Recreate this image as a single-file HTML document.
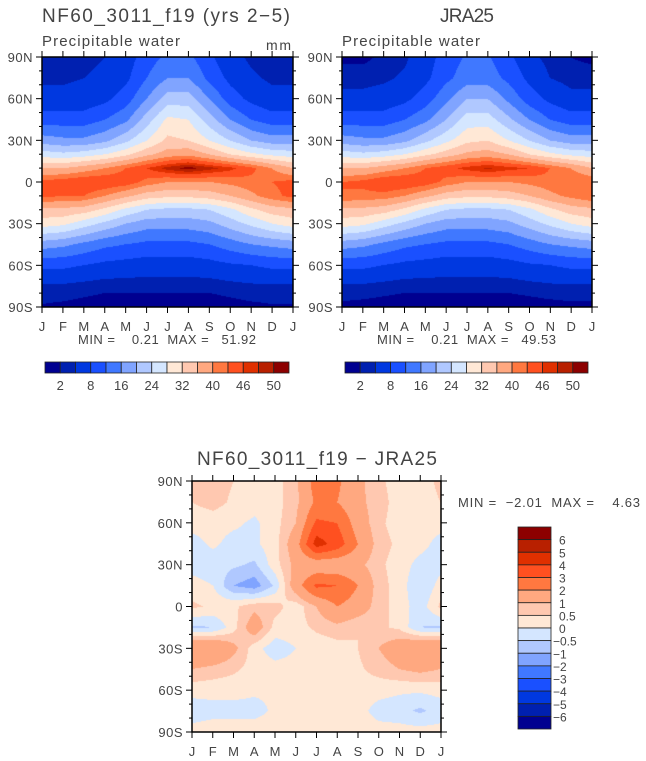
<!DOCTYPE html>
<html><head><meta charset="utf-8">
<style>
body{margin:0;background:#fff;width:646px;height:761px;position:relative;overflow:hidden;font-family:"Liberation Sans",sans-serif;color:#444}
canvas{position:absolute}
svg{position:absolute;left:0;top:0}
text{font-family:"Liberation Sans",sans-serif;fill:#444}
</style></head>
<body>
<canvas id="c1" width="251" height="250" style="left:42px;top:57px"></canvas>
<canvas id="c2" width="250" height="250" style="left:342px;top:57px"></canvas>
<canvas id="c3" width="249" height="251" style="left:192px;top:481px"></canvas>
<svg id="ov" width="646" height="761"></svg>
<script>
const months=["J","F","M","A","M","J","J","A","S","O","N","D","J"];
const latLabels=["90N","60N","30N","0","30S","60S","90S"];
const pwLats=[90,75,60,45,30,20,10,0,-10,-20,-30,-45,-60,-75,-90];
const diffLats=[90,75,60,45,30,15,0,-15,-30,-45,-60,-75,-90];
// rows follow pwLats ; cols: Jan..Jan
const modelPW=[
[3,3,3,4,6,10,13,13,9,5,3.5,3,3],
[3.5,3.5,4,5,7,12,16,16,11,7,4.5,3.5,3.5],
[5,5,5.5,7,10,16,22,22,16,10,7,5,5],
[10,10,10,12,15,22,29,28,22,16,12,10,10],
[18,17,17,19,23,28,33,32,28,24,20,18,18],
[26,25,26,28,31,35,38,39,36,32,29,27,26],
[36,36,38,40,43,46,49,51,49,47,44,40,36],
[44,45,46,46,45,42,40,40,40,41,42,43,44],
[44,43,43,40,37,34,33,33,34,36,39,42,44],
[35,35,34,31,27,24,23,23,24,27,31,34,35],
[30,29,26,23,20,18,18,18,19,22,25,28,30],
[18,17,15,13,12,11,11,11,12,14,16,17,18],
[9,9,8,7,6.5,6,6,6,6.5,7.5,8,9,9],
[3.5,3.5,3,2.5,2.5,2.5,2.5,2.5,2.5,3,3.5,3.5,3.5],
[1.8,1.5,1.2,1,1,1,1,1,1,1.2,1.5,1.8,1.8]];
const jraPW=[
[1.5,1.5,2.5,3.5,6,10,12.5,12.5,9,5,3,2,1.5],
[3,3,3.5,4.5,7,11,14,14,11,7,4,3,3],
[5,5,5.5,7,10,15,20,20,15,10,7,5,5],
[10,10,10,12,15,20,26,26,21,16,12,10,10],
[18,17,17,19,23,27,31,32,28,24,20,18,18],
[26,25,26,28,31,34,37,38,36,32,29,27,26],
[36,36,38,40,43,45,47,48.5,47,46,43,40,36],
[43,44,46,46,45,42,40,40,40,41,42,43,43],
[43,42,42,40,37,34,33,33,34,36,39,41,43],
[35,35,34,31,27,24,23,23,24,27,31,34,35],
[30,29,26,23,20,18,18,18,19,22,25,28,30],
[18,17,15,13,12,11,11,11,12,14,16,17,18],
[9,9,8,7,6.5,6,6,6,6.5,7.5,8,9,9],
[3.5,3.5,3,2.5,2.5,2.5,2.5,2.5,2.5,3,3.5,3.5,3.5],
[1.5,1.2,1,1,1,1,1,1,1,1,1.2,1.5,1.5]];
// rows follow diffLats
const diffPW=[
[0.6,0.7,0.5,0.3,0.3,0.8,2.5,2.2,1.2,0.6,0.3,0.3,0.6],
[0.5,0.7,0.4,0.2,0.3,0.8,2.2,2,1.2,0.7,0.3,0.3,0.5],
[0.2,0.2,0.1,-0.1,0.3,1,3.2,3,1.5,0.6,0.3,0.2,0.2],
[-0.2,0.1,-0.2,-0.1,0.3,1.5,4.5,3.6,2,0.7,0.4,0.2,-0.2],
[-0.2,-0.3,-0.4,-0.6,0.3,1.2,1.2,1.2,1.2,0.6,0.3,-0.2,-0.2],
[0.2,0,-1,-1.3,-0.4,1.5,3.2,3,2,0.7,0.3,-0.5,0.2],
[0.6,0.4,0.4,0.8,0.7,0.2,1,2,1.5,0.7,0.3,-0.3,0.6],
[-0.6,-0.5,0.3,1.5,0.3,0.3,0.6,0.8,0.5,0.6,0.4,-0.5,-0.6],
[2,2,1.2,0.2,-0.3,0,0.2,0.3,0.5,1,1.5,2,2],
[1,0.8,0.6,0.3,0.2,0.2,0.2,0.3,0.4,0.7,1,1.2,1],
[0.2,0.2,0.2,0.1,0.1,0.2,0.2,0.3,0.3,0.2,0.1,0.1,0.2],
[-0.3,-0.2,-0.2,-0.2,0.1,0.1,0.2,0.2,0.2,-0.2,-0.3,-0.6,-0.3],
[0.2,0.3,0.3,0.3,0.3,0.3,0.3,0.3,0.3,0.2,0.2,0.2,0.2]];
const pwLevels=[2,4,8,12,16,20,24,28,32,36,40,43,46,48,50];
const pwLabels=["2","8","16","24","32","40","46","50"];
const diffLevels=[-6,-5,-4,-3,-2,-1,-0.5,0,0.5,1,2,3,4,5,6];
const diffLabels=["6","5","4","3","2","1","0.5","0","\u22120.5","\u22121","\u22122","\u22123","\u22124","\u22125","\u22126"];
const palette=["#000090","#0020b0","#0038e0","#1a50ff","#4078ff","#80a4ff","#b0c8ff","#d4e6ff","#ffe8d6","#ffc8b0","#ffa880","#ff7840","#ff5020","#e03000","#b82000","#8c0000"];

function hex(c){return [parseInt(c.slice(1,3),16),parseInt(c.slice(3,5),16),parseInt(c.slice(5,7),16)];}
const rgb=palette.map(hex);
function levelIdx(v,lv){let i=0;while(i<lv.length&&v>=lv[i])i++;return i;}
function sample(g,lats,fx,lat){
  const x0=Math.min(11,Math.floor(fx)),tx=fx-x0;
  let y0=0;while(y0<lats.length-2&&lat<lats[y0+1])y0++;
  const ty=(lats[y0]-lat)/(lats[y0]-lats[y0+1]);
  const a=g[y0][x0],b=g[y0][x0+1],c=g[y0+1][x0],d=g[y0+1][x0+1];
  return (a*(1-tx)+b*tx)*(1-ty)+(c*(1-tx)+d*tx)*ty;
}
function drawField(id,g,lats,lv){
  const cv=document.getElementById(id),ctx=cv.getContext('2d');
  const W=cv.width,H=cv.height,img=ctx.createImageData(W,H);
  for(let y=0;y<H;y++)for(let x=0;x<W;x++){
    const v=sample(g,lats,x/(W-1)*12,90-180*y/(H-1));
    const c=rgb[levelIdx(v,lv)],k=(y*W+x)*4;
    img.data[k]=c[0];img.data[k+1]=c[1];img.data[k+2]=c[2];img.data[k+3]=255;
  }
  ctx.putImageData(img,0,0);
}
drawField('c1',modelPW,pwLats,pwLevels);
drawField('c2',jraPW,pwLats,pwLevels);
drawField('c3',diffPW,diffLats,diffLevels);

const NS='http://www.w3.org/2000/svg';
const ov=document.getElementById('ov');
function el(tag,attrs,txt){const e=document.createElementNS(NS,tag);for(const k in attrs)e.setAttribute(k,attrs[k]);if(txt!==undefined)e.textContent=txt;ov.appendChild(e);return e;}
function ln(x1,y1,x2,y2,w){return el('line',{x1,y1,x2,y2,stroke:'#000','stroke-width':w||1});}
function frame(L,T,R,B,prefix){
  const f=el('rect',{x:L,y:T,width:R-L,height:B-T,fill:'none',stroke:'#000','stroke-width':1.5});
  
  
  const W=R-L,H=B-T;
  months.forEach((m,i)=>{
    const x=L+i*W/12;
    ln(x,B,x,B+6);ln(x,T,x,T-6);
    const t=el('text',{x:x,y:B+24,'font-size':13,'text-anchor':'middle'},m);
    
    
  });
  for(let j=0;j<=18;j++){
    const y=T+j*H/18,len=(j%3==0)?6:3;
    ln(L-len,y,L,y);ln(R,y,R+len,y);
  }
  latLabels.forEach((s,i)=>{
    const t=el('text',{x:L-9,y:T+i*H/6+5,'font-size':13,'text-anchor':'end','letter-spacing':0.5},s);
    
    
  });
}
frame(42,57,293,307,'model');
frame(342,57,592,307,'jra25');
frame(192,481,441,732,'diff');

function hbar(L,T,W,H,prefix){
  const n=palette.length,bw=W/n;
  palette.forEach((c,i)=>{
    const r=el('rect',{x:L+i*bw,y:T,width:bw,height:H,fill:c,stroke:'#222','stroke-width':0.8});
    
    
  });
  pwLabels.forEach((s,i)=>{
    const t=el('text',{x:L+(1+2*i)*bw,y:T+H+17,'font-size':13,'text-anchor':'middle'},s);
    
    
  });
}
hbar(45,362,244,11,'model');
hbar(345,362,243,11,'jra25');
(function(){
  const L=518,T=527,W=33,H=202,n=palette.length,bh=H/n;
  palette.slice().reverse().forEach((c,i)=>{
    const r=el('rect',{x:L,y:T+i*bh,width:W,height:bh,fill:c,stroke:'#222','stroke-width':0.8});
    
    
  });
  diffLabels.forEach((s,i)=>{
    const t=el('text',{x:s.startsWith('\u2212')?553:559,y:T+(i+1)*bh+5,'font-size':12},s);
    
    
  });
})();
</script>
<svg width="646" height="761" style="pointer-events:none">
<text x="42" y="22" font-size="19" textLength="248" lengthAdjust="spacing">NF60_3011_f19 (yrs 2−5)</text>
<text x="42" y="46" font-size="15" textLength="138" lengthAdjust="spacing">Precipitable water</text>
<text x="266" y="50" font-size="14" textLength="25" lengthAdjust="spacing">mm</text>
<text x="78" y="344" font-size="13" textLength="178" lengthAdjust="spacing" xml:space="preserve">MIN =    0.21  MAX =   51.92</text>
<text x="440" y="22" font-size="19" textLength="54" lengthAdjust="spacing">JRA25</text>
<text x="342" y="46" font-size="15" textLength="138" lengthAdjust="spacing">Precipitable water</text>
<text x="377" y="344" font-size="13" textLength="179" lengthAdjust="spacing" xml:space="preserve">MIN =    0.21  MAX =   49.53</text>
<text x="197" y="465" font-size="19" textLength="240" lengthAdjust="spacing">NF60_3011_f19 − JRA25</text>
<text x="458" y="507" font-size="13" textLength="182" lengthAdjust="spacing" xml:space="preserve">MIN =  −2.01  MAX =    4.63</text>
</svg>
</body></html>
